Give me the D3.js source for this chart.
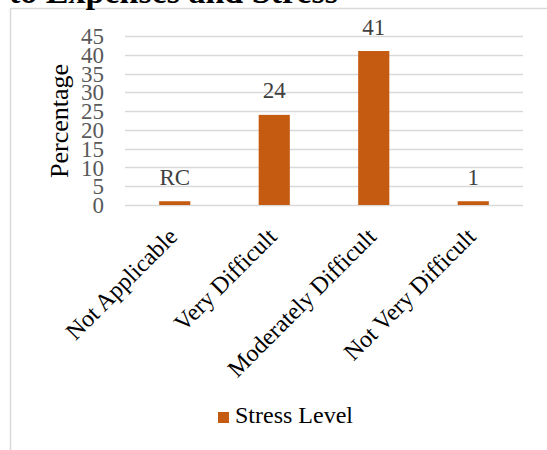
<!DOCTYPE html>
<html>
<head>
<meta charset="utf-8">
<script src="https://cdn.jsdelivr.net/npm/d3@7"></script>
<style>
  html, body { margin: 0; padding: 0; background: #fff; }
  svg { display: block; }
  text { font-family: "Liberation Serif", "Times New Roman", serif; }
</style>
</head>
<body>
<svg id="chart" width="547" height="450"></svg>
<script>
// Stress level responses by category
const categories = ["Not Applicable", "Very Difficult", "Moderately Difficult", "Not Very Difficult"];
const values = [1, 24, 41, 1];
const valueLabels = ["RC", "24", "41", "1"];
const yTicks = [0, 5, 10, 15, 20, 25, 30, 35, 40, 45];
const seriesName = "Stress Level";
const titleText = "to Expenses and Stress";

const barColor = "#C55A11";
const gridColor = "#d9d9d9";

const svg = d3.select("#chart");

// chart frame
svg.append("path")
  .attr("d", "M10.5,450 V8.5 H547")
  .attr("fill", "none")
  .attr("stroke", gridColor)
  .attr("stroke-width", 1.5);

// title (runs off the top edge)
svg.append("text")
  .attr("x", 9)
  .attr("y", 3)
  .attr("font-size", 34)
  .attr("font-weight", "bold")
  .attr("fill", "#000")
  .text(titleText);

const plot = { left: 125, right: 523, top: 36, bottom: 205 };

const x = d3.scaleBand()
  .domain(categories)
  .range([plot.left, plot.right])
  .paddingInner(0)
  .paddingOuter(0);

const y = d3.scaleLinear()
  .domain([0, 45])
  .range([plot.bottom, plot.top]);

const barW = x.bandwidth() * 0.313;

// gridlines
svg.append("g")
  .selectAll("line")
  .data(yTicks)
  .join("line")
  .attr("x1", plot.left)
  .attr("x2", plot.right)
  .attr("y1", d => Math.round(y(d)) + 0.5)
  .attr("y2", d => Math.round(y(d)) + 0.5)
  .attr("stroke", gridColor)
  .attr("stroke-width", 1.5);

// y axis labels
const yAxis = d3.axisLeft(y).tickValues(yTicks).tickSize(0).tickPadding(0);
const gy = svg.append("g")
  .attr("transform", `translate(${104},0)`)
  .call(yAxis);
gy.select(".domain").remove();
gy.selectAll("text")
  .attr("font-family", "'Liberation Serif', 'Times New Roman', serif")
  .attr("font-size", 23)
  .attr("fill", "#595959")
  .attr("dy", "0.33em");

// y axis title
svg.append("text")
  .attr("transform", `translate(68,121) rotate(-90)`)
  .attr("text-anchor", "middle")
  .attr("font-size", 26)
  .attr("fill", "#000")
  .text("Percentage");

// bars
svg.append("g")
  .selectAll("rect")
  .data(values)
  .join("rect")
  .attr("x", (d, i) => x(categories[i]) + x.bandwidth() / 2 - barW / 2)
  .attr("y", d => y(d))
  .attr("width", barW)
  .attr("height", d => y(0) - y(d))
  .attr("fill", barColor);

// value labels
svg.append("g")
  .selectAll("text")
  .data(values)
  .join("text")
  .attr("x", (d, i) => x(categories[i]) + x.bandwidth() / 2)
  .attr("y", d => y(d) - 16.5)
  .attr("text-anchor", "middle")
  .attr("font-size", 23)
  .attr("fill", "#404040")
  .text((d, i) => valueLabels[i]);

// category labels, rotated
svg.append("g")
  .selectAll("text")
  .data(categories)
  .join("text")
  .attr("transform", d => `translate(${x(d) + x.bandwidth() / 2 + 4},${plot.bottom + 33}) rotate(-45)`)
  .attr("text-anchor", "end")
  .attr("font-size", 24)
  .attr("fill", "#000")
  .text(d => d);

// legend
const legend = svg.append("g").attr("transform", "translate(218,412)");
legend.append("rect")
  .attr("width", 11)
  .attr("height", 11)
  .attr("fill", barColor);
legend.append("text")
  .attr("x", 17)
  .attr("y", 11)
  .attr("font-size", 24)
  .attr("fill", "#000")
  .text(seriesName);
</script>
</body>
</html>
